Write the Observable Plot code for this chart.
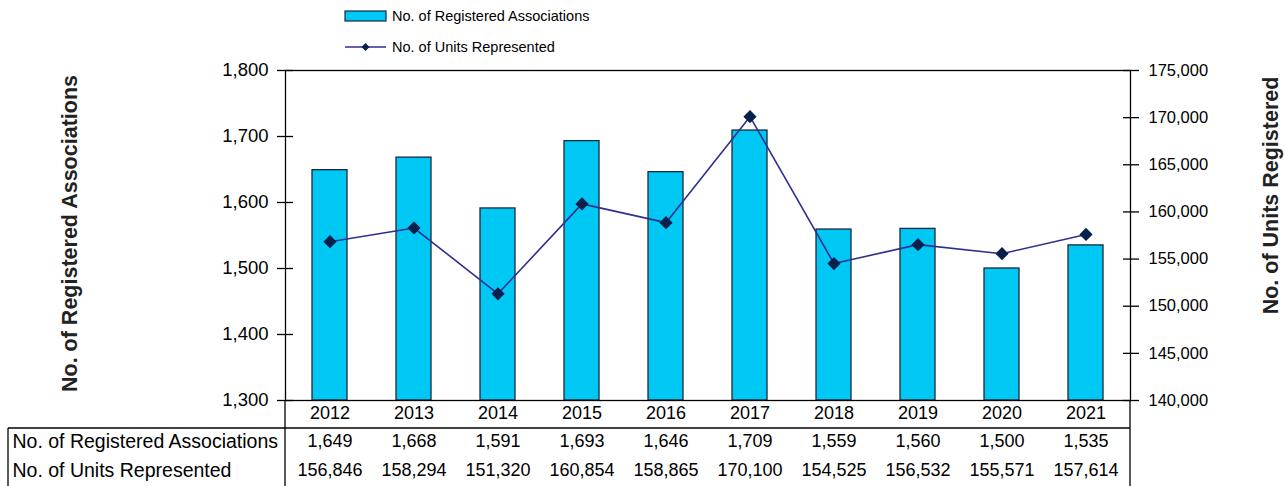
<!DOCTYPE html>
<html><head><meta charset="utf-8">
<script src="https://cdn.jsdelivr.net/npm/d3@7"></script>
<script src="https://cdn.jsdelivr.net/npm/@observablehq/plot@0.6"></script>
<style>
body{margin:0;background:#fff;}
#chart svg{display:block;}
</style>
</head><body><div id="chart"></div>
<script>
const years = ["2012","2013","2014","2015","2016","2017","2018","2019","2020","2021"];
const associations = [1649,1668,1591,1693,1646,1709,1559,1560,1500,1535];
const units = [156846,158294,151320,160854,158865,170100,154525,156532,155571,157614];
const seriesNames = ["No. of Registered Associations","No. of Units Represented"];
const leftTitle = "No. of Registered Associations";
const rightTitle = "No. of Units Registered";
const leftTicks = [1300,1400,1500,1600,1700,1800];
const rightTicks = [140000,145000,150000,155000,160000,165000,170000,175000];

const yDomain = [1300,1800];
const y2Domain = [140000,175000];
const toLeft = d3.scaleLinear(y2Domain, yDomain);
const fmt = d3.format(",");

const barFill = "#00C8F5", barStroke = "#1a2740";
const lineColor = "#2f2f8f", markerColor = "#08204c";
const font = "'Liberation Sans', Arial, sans-serif";

const data = years.map((year,i)=>({year, associations: associations[i], units: units[i], unitsL: toLeft(units[i])}));

// table borders
function tableMark(index, scales, values, dim) {
  const g = d3.create("svg:g").attr("stroke","#000").attr("stroke-width",1.3).attr("fill","none");
  const L = dim.marginLeft, R = dim.width - dim.marginRight, B = dim.height - dim.marginBottom, H = dim.height;
  const rowTop = B + 28;
  g.append("line").attr("x1",8).attr("x2",R).attr("y1",rowTop).attr("y2",rowTop);
  g.append("line").attr("x1",8).attr("x2",8).attr("y1",rowTop).attr("y2",H);
  g.append("line").attr("x1",L).attr("x2",L).attr("y1",B).attr("y2",H);
  g.append("line").attr("x1",R).attr("x2",R).attr("y1",B).attr("y2",H);
  return g.node();
}

// legend
function legendMark(index, scales, values, dim) {
  const g = d3.create("svg:g").attr("font-family", font).attr("font-size", 14.5).attr("text-anchor","start").attr("fill","#000");
  const x0 = 345;
  g.append("rect").attr("x",x0).attr("y",11).attr("width",41).attr("height",10)
    .attr("fill",barFill).attr("stroke",barStroke).attr("stroke-width",1.2);
  g.append("text").attr("x",x0+47).attr("y",16).attr("dy","0.35em").text(seriesNames[0]);
  g.append("line").attr("x1",x0).attr("x2",x0+41).attr("y1",47).attr("y2",47)
    .attr("stroke",lineColor).attr("stroke-width",1.5);
  g.append("path").attr("d", d3.symbol(d3.symbolDiamond2, 40)()).attr("transform",`translate(${x0+20.5},47)`)
    .attr("fill",markerColor);
  g.append("text").attr("x",x0+47).attr("y",47).attr("dy","0.35em").text(seriesNames[1]);
  return g.node();
}

const chart = Plot.plot({
  width: 1286, height: 486,
  marginLeft: 285, marginRight: 156, marginTop: 70, marginBottom: 86,
  style: {fontFamily: font, fontSize: "18px", color: "#000", background: "#fff"},
  x: {type: "band", domain: years, paddingInner: 0.586, paddingOuter: 0.293, axis: null},
  y: {domain: yDomain, axis: null},
  marks: [
    Plot.barY(data, {x: "year", y1: yDomain[0], y2: "associations", fill: barFill, stroke: barStroke, strokeWidth: 1.3}),
    Plot.line(data, {x: "year", y: "unitsL", stroke: lineColor, strokeWidth: 1.6}),
    Plot.dot(data, {x: "year", y: "unitsL", symbol: "diamond2", r: 5, fill: markerColor, stroke: markerColor}),
    Plot.frame({stroke: "#000", strokeWidth: 1.3}),
    Plot.axisY(leftTicks, {anchor: "left", tickSize: 16, dx: 8, tickPadding: 9, tickFormat: fmt, label: null, fontSize: 18.5, strokeWidth: 1.3}),
    Plot.axisY(rightTicks.map(toLeft), {anchor: "right", tickSize: 16, dx: -8, tickPadding: 10, tickFormat: v => fmt(Math.round(toLeft.invert(v))), label: null, fontSize: 16.5, strokeWidth: 1.3}),
    Plot.axisX({tickSize: 0, tickPadding: 6, label: null, fontSize: 18}),
    Plot.text(data, {x: "year", y: yDomain[0], text: d => fmt(d.associations), dy: 41, fontSize: 18}),
    Plot.text(data, {x: "year", y: yDomain[0], text: d => fmt(d.units), dy: 70, fontSize: 18}),
    Plot.text([seriesNames[0]], {frameAnchor: "bottom-left", text: d => d, dx: -273, dy: 41, textAnchor: "start", lineAnchor: "middle", fontSize: 19.5}),
    Plot.text([seriesNames[1]], {frameAnchor: "bottom-left", text: d => d, dx: -273, dy: 70, textAnchor: "start", lineAnchor: "middle", fontSize: 19.5}),
    Plot.text([leftTitle], {frameAnchor: "left", text: d => d, rotate: -90, dx: -215, dy: -2, textAnchor: "middle", lineAnchor: "middle", fontWeight: "bold", fontSize: 21.5, fill: "#222"}),
    Plot.text([rightTitle], {frameAnchor: "right", text: d => d, rotate: -90, dx: 141, dy: -40, textAnchor: "middle", lineAnchor: "middle", fontWeight: "bold", fontSize: 21.5, fill: "#222"}),
    tableMark,
    legendMark
  ]
});
document.getElementById("chart").appendChild(chart);
</script>
</body></html>
